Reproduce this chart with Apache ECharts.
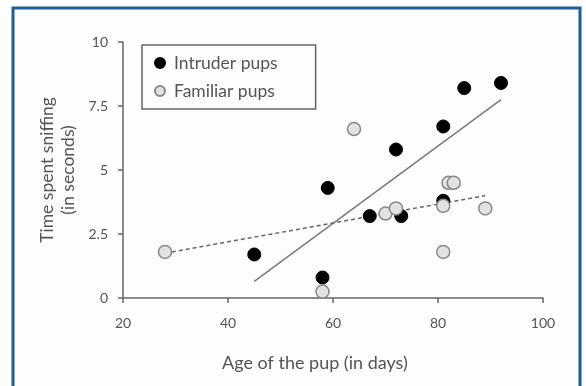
<!DOCTYPE html>
<html>
<head>
<meta charset="utf-8">
<script src="https://cdn.jsdelivr.net/npm/echarts@6/dist/echarts.min.js"></script>
<style>html,body{margin:0;padding:0;background:#fff;}#c{width:586px;height:386px;}</style>
</head>
<body>
<div id="c"></div>
<script>
// Data
const intruderAge = [45, 58, 59, 67, 72, 73, 81, 81, 85, 92];
const intruderTime = [1.7, 0.8, 4.3, 3.2, 5.8, 3.2, 6.7, 3.8, 8.2, 8.4];
const familiarAge = [28, 58, 64, 70, 72, 81, 81, 82, 83, 89];
const familiarTime = [1.8, 0.25, 6.6, 3.3, 3.5, 3.6, 1.8, 4.5, 4.5, 3.5];
// Trend line endpoints (as drawn)
const intruderTrendAge = [45, 92];
const intruderTrendTime = [0.65, 7.75];
const familiarTrendAge = [28, 89];
const familiarTrendTime = [1.75, 4.0];
const xTicks = [20, 40, 60, 80, 100];
const yTicks = [0, 2.5, 5, 7.5, 10];

const zip = (a, b) => a.map((v, i) => [v, b[i]]);
const FONT = 'Lato';
const chart = echarts.init(document.getElementById('c'), null, {renderer: 'canvas'});
chart.setOption({
  animation: false,
  backgroundColor: '#ffffff',
  textStyle: {fontFamily: FONT},
  graphic: [
    {type: 'rect', z: -10, silent: true, shape: {x: 13, y: 8, width: 567, height: 400},
     style: {fill: '#fdfdfd', stroke: '#1f5c9e', lineWidth: 3}},
    {type: 'text', left: 222, top: 354, style: {text: 'Age of the pup (in days)', font: '18px Lato', fill: '#555'}},
    {type: 'text', x: 58, y: 170, rotation: Math.PI / 2, silent: true,
     style: {text: 'Time spent sniffing\n(in seconds)', font: '17.5px Lato', fill: '#555', align: 'center', verticalAlign: 'middle', lineHeight: 21}}
  ],
  grid: {left: 123, right: 43, top: 42, bottom: 88, containLabel: false},
  legend: {
    orient: 'vertical', left: 142, top: 45,
    borderColor: '#666', borderWidth: 1.5, padding: [9, 38, 9, 12], itemGap: 10,
    itemWidth: 10, itemHeight: 10,
    textStyle: {fontSize: 17.5, color: '#555', fontFamily: FONT, padding: [0, 0, 0, 4]},
    data: ['Intruder pups', 'Familiar pups']
  },
  xAxis: {
    type: 'value', min: 20, max: 100, interval: 20,
    axisLine: {lineStyle: {color: '#666', width: 1.5}},
    axisTick: {show: true, inside: false, length: 5, lineStyle: {color: '#666', width: 1.5}},
    axisLabel: {color: '#555', fontSize: 14, margin: 18, formatter: v => xTicks.includes(v) ? String(v) : ''},
    splitLine: {show: false}
  },
  yAxis: {
    type: 'value', min: 0, max: 10, interval: 2.5,
    axisLine: {show: true, lineStyle: {color: '#666', width: 1.5}},
    axisTick: {show: true, inside: false, length: 5, lineStyle: {color: '#666', width: 1.5}},
    axisLabel: {color: '#555', fontSize: 14, margin: 15, formatter: v => yTicks.includes(v) ? String(v) : ''},
    splitLine: {show: false}
  },
  series: [
    {name: 'intruderTrend', type: 'line', data: zip(intruderTrendAge, intruderTrendTime), symbol: 'none',
     lineStyle: {color: '#7a7a7a', width: 1.5}, z: 1, silent: true},
    {name: 'familiarTrend', type: 'line', data: zip(familiarTrendAge, familiarTrendTime), symbol: 'none',
     lineStyle: {color: '#666', width: 1.5, type: [4, 3]}, z: 1, silent: true},
    {name: 'Intruder pups', type: 'scatter', data: zip(intruderAge, intruderTime), symbolSize: 13,
     itemStyle: {color: '#000', borderColor: '#000', borderWidth: 1, opacity: 1}, z: 3},
    {name: 'Familiar pups', type: 'scatter', data: zip(familiarAge, familiarTime), symbolSize: 13,
     itemStyle: {color: '#e2e2e2', borderColor: '#888', borderWidth: 1.5, opacity: 1}, z: 3}
  ]
});
</script>
</body>
</html>
